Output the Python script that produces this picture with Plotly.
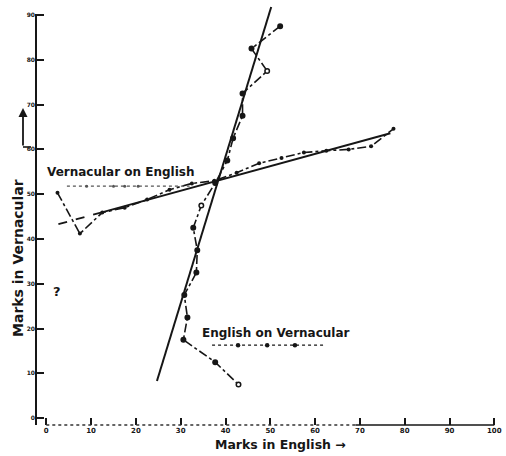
import plotly.graph_objects as go

# ---- data ----
# Vernacular on English: mean vernacular mark for each English class
eng_classes = [2.5, 7.5, 12.5, 17.5, 22.5, 27.5, 32.5, 37.5, 42.5, 47.5,
               52.5, 57.5, 62.5, 67.5, 72.5, 77.5]
vern_means = [50.3, 41.2, 45.9, 47.0, 48.8, 51.0, 52.4, 53.0, 54.8, 56.9,
              58.1, 59.3, 59.7, 60.0, 60.7, 64.6]

# English on Vernacular: mean English mark for each vernacular class
vern_classes = [87.5, 82.5, 77.5, 72.5, 67.5, 62.5, 57.5, 52.5, 47.5, 42.5,
                37.5, 32.5, 27.5, 22.5, 17.5, 12.5, 7.5]
eng_means = [52.2, 45.8, 49.3, 43.8, 43.8, 41.7, 40.4, 37.7, 34.6, 32.8,
             33.7, 33.5, 30.8, 31.5, 30.6, 37.7, 42.9]
eng_open = [False, False, True, False, False, False, False, False, True, False,
            False, False, False, False, False, False, True]

# fitted regression lines (end points)
fit_vern_x = [2.7, 12.6, 76.8]
fit_vern_y = [43.3, 46.0, 63.6]
fit_eng_x = [24.7, 50.2]
fit_eng_y = [8.3, 91.8]

# key samples next to the two labels
key_vern_line_x = [4.6, 32.0]
key_vern_line_y = [51.8, 51.8]
key_vern_dot_x = [9.0, 15.0, 17.5, 20.5]
key_vern_dot_y = [51.8, 51.8, 51.8, 51.8]
key_eng_line_x = [37.0, 62.2]
key_eng_line_y = [16.3, 16.3]
key_eng_dot_x = [42.8, 49.3, 55.5]
key_eng_dot_y = [16.3, 16.3, 16.3]

x_ticks = [0, 10, 20, 30, 40, 50, 60, 70, 80, 90, 100]
y_ticks = [0, 10, 20, 30, 40, 50, 60, 70, 80, 90]
x_axis_dotted = [0, 69]
x_axis_solid = [69, 100]

INK = "#161616"
W, H = 506, 456
ML, MR, MT, MB = 36, 7, 2, 31
PW, PH = W - ML - MR, H - MT - MB


def pxx(px):
    return (px - ML) / PW


def pxy(py):
    return (H - MB - py) / PH


fig = go.Figure()

# regression of vernacular on English (dashed start, then solid)
fig.add_trace(go.Scatter(x=fit_vern_x[:2], y=fit_vern_y[:2], mode="lines",
                         line=dict(color=INK, width=1.8, dash="dash"),
                         hoverinfo="skip"))
fig.add_trace(go.Scatter(x=fit_vern_x[1:], y=fit_vern_y[1:], mode="lines",
                         line=dict(color=INK, width=1.9), hoverinfo="skip"))
# regression of English on vernacular (solid)
fig.add_trace(go.Scatter(x=fit_eng_x, y=fit_eng_y, mode="lines",
                         line=dict(color=INK, width=2.0), hoverinfo="skip"))

# observed means, vernacular on English
fig.add_trace(go.Scatter(x=eng_classes, y=vern_means, mode="lines+markers",
                         line=dict(color=INK, width=1.6, dash="dashdot"),
                         marker=dict(color=INK, size=4),
                         name="Vernacular on English"))
# observed means, English on vernacular
fig.add_trace(go.Scatter(
    x=eng_means, y=vern_classes, mode="lines+markers",
    line=dict(color=INK, width=1.6, dash="dashdot"),
    marker=dict(color=["white" if o else INK for o in eng_open], size=4.5,
                line=dict(color=INK, width=1.5)),
    name="English on Vernacular"))

# key samples
fig.add_trace(go.Scatter(x=key_vern_line_x, y=key_vern_line_y, mode="lines",
                         line=dict(color="#555", width=1.2, dash="dot"),
                         hoverinfo="skip"))
fig.add_trace(go.Scatter(x=key_vern_dot_x, y=key_vern_dot_y, mode="markers",
                         marker=dict(color="#555", size=3), hoverinfo="skip"))
fig.add_trace(go.Scatter(x=key_eng_line_x, y=key_eng_line_y, mode="lines",
                         line=dict(color=INK, width=1.2, dash="dot"),
                         hoverinfo="skip"))
fig.add_trace(go.Scatter(x=key_eng_dot_x, y=key_eng_dot_y, mode="markers",
                         marker=dict(color=INK, size=4.5), hoverinfo="skip"))

TXT = dict(family="DejaVu Sans", color=INK, weight="bold")
annotations = [
    dict(x=pxx(45), y=pxy(172), xref="paper", yref="paper", xanchor="left",
         yanchor="middle", text="Vernacular on English", showarrow=False,
         font=dict(size=12, **TXT)),
    dict(x=pxx(200), y=pxy(333), xref="paper", yref="paper", xanchor="left",
         yanchor="middle", text="English on Vernacular", showarrow=False,
         font=dict(size=12, **TXT)),
    dict(x=pxx(280), y=pxy(444), xref="paper", yref="paper", xanchor="center",
         yanchor="middle", text="Marks in English \u2192", showarrow=False,
         font=dict(size=12.5, **TXT)),
    dict(x=pxx(18), y=pxy(258), xref="paper", yref="paper", xanchor="center",
         yanchor="middle", text="Marks in Vernacular", textangle=-90,
         showarrow=False, font=dict(size=14, **TXT)),
    dict(x=pxx(57), y=pxy(291), xref="paper", yref="paper", xanchor="center",
         yanchor="middle", text="?", showarrow=False,
         font=dict(size=13, **TXT)),
    dict(x=pxx(23), y=pxy(108), xref="paper", yref="paper", ax=0, ay=39,
         text="", showarrow=True, arrowhead=2, arrowsize=1, arrowwidth=1.8,
         arrowcolor=INK),
]

shapes = [
    # y axis line
    dict(type="line", xref="paper", yref="paper", x0=0, x1=0,
         y0=pxy(425), y1=pxy(14), line=dict(color=INK, width=2)),
    # x axis baseline: dotted then solid
    dict(type="line", xref="x", yref="paper", x0=x_axis_dotted[0],
         x1=x_axis_dotted[1], y0=0, y1=0,
         line=dict(color="#333", width=1.3, dash="dot")),
    dict(type="line", xref="x", yref="paper", x0=x_axis_solid[0],
         x1=x_axis_solid[1], y0=0, y1=0, line=dict(color=INK, width=1.5)),
    # foot of the arrow next to the y title
    dict(type="line", xref="paper", yref="paper", x0=pxx(23), x1=pxx(31),
         y0=pxy(147), y1=pxy(147), line=dict(color=INK, width=1.6)),
]

x_span = PW / 4.48
y_span = PH / 4.48
fig.update_layout(
    width=W, height=H, margin=dict(l=ML, r=MR, t=MT, b=MB),
    paper_bgcolor="white", plot_bgcolor="white", showlegend=False,
    annotations=annotations, shapes=shapes,
    xaxis=dict(range=[-2.3, -2.3 + x_span], tickvals=x_ticks,
               ticktext=[str(v) for v in x_ticks], ticks="inside", ticklen=7,
               tickwidth=1.5, tickcolor=INK, showgrid=False, zeroline=False,
               showline=False,
               tickfont=dict(size=7, family="DejaVu Sans", color=INK,
                             weight="bold")),
    yaxis=dict(range=[92.9 - y_span, 92.9], tickvals=y_ticks,
               ticktext=[str(v) for v in y_ticks], ticks="inside", ticklen=8,
               tickwidth=1.5, tickcolor=INK, showgrid=False, zeroline=False,
               showline=False,
               tickfont=dict(size=6, family="DejaVu Sans", color=INK,
                             weight="bold")),
)

fig.write_html("out.html")
